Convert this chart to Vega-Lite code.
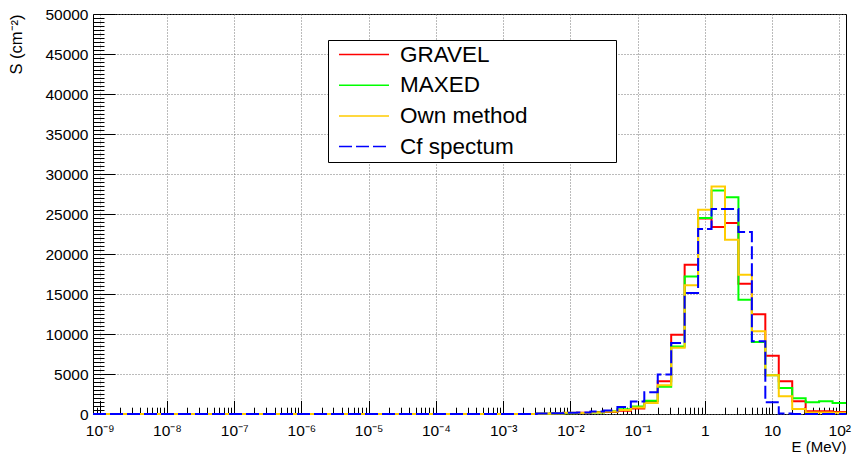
{
  "$schema": "https://vega.github.io/schema/vega-lite/v6.json",
  "width": 753,
  "height": 400,
  "autosize": {"type": "none"},
  "padding": {"left": 93, "top": 14, "right": 6, "bottom": 40},
  "background": "white",
  "config": {
    "font": "Liberation Sans",
    "view": {"stroke": "#000000", "strokeWidth": 1},
    "axis": {"labelFont": "Liberation Sans", "titleFont": "Liberation Sans", "labelColor": "#000000", "titleColor": "#000000", "tickColor": "#000000", "titleFontWeight": "normal"},
    "legend": {
      "orient": "none",
      "legendX": 235,
      "legendY": 26,
      "fillColor": "#ffffff",
      "strokeColor": "#000000",
      "padding": 3,
      "symbolType": "stroke",
      "symbolSize": 2500,
      "symbolStrokeWidth": 1.5,
      "symbolOffset": 7,
      "labelFont": "Liberation Sans",
      "labelFontSize": 22.5,
      "labelColor": "#000000",
      "labelOffset": 10,
      "labelLimit": 500,
      "clipHeight": 23,
      "rowPadding": 7.7
    }
  },
  "datasets": {
    "h": [
      {"E": 7.943e-10, "GRAVEL": 0, "MAXED": 0, "Own method": 0, "Cf spectum": 0},
      {"E": 1.259e-9, "GRAVEL": 0, "MAXED": 0, "Own method": 0, "Cf spectum": 0},
      {"E": 1.995e-9, "GRAVEL": 0, "MAXED": 0, "Own method": 0, "Cf spectum": 0},
      {"E": 3.162e-9, "GRAVEL": 0, "MAXED": 0, "Own method": 0, "Cf spectum": 0},
      {"E": 5.012e-9, "GRAVEL": 0, "MAXED": 0, "Own method": 0, "Cf spectum": 0},
      {"E": 7.943e-9, "GRAVEL": 0, "MAXED": 0, "Own method": 0, "Cf spectum": 0},
      {"E": 1.259e-8, "GRAVEL": 0, "MAXED": 0, "Own method": 0, "Cf spectum": 0},
      {"E": 1.995e-8, "GRAVEL": 0, "MAXED": 0, "Own method": 0, "Cf spectum": 0},
      {"E": 3.162e-8, "GRAVEL": 0, "MAXED": 0, "Own method": 0, "Cf spectum": 0},
      {"E": 5.012e-8, "GRAVEL": 0, "MAXED": 0, "Own method": 0, "Cf spectum": 0},
      {"E": 7.943e-8, "GRAVEL": 0, "MAXED": 0, "Own method": 0, "Cf spectum": 0},
      {"E": 1.259e-7, "GRAVEL": 0, "MAXED": 0, "Own method": 0, "Cf spectum": 0},
      {"E": 1.995e-7, "GRAVEL": 0, "MAXED": 0, "Own method": 0, "Cf spectum": 0},
      {"E": 3.162e-7, "GRAVEL": 0, "MAXED": 0, "Own method": 0, "Cf spectum": 0},
      {"E": 5.012e-7, "GRAVEL": 0, "MAXED": 0, "Own method": 0, "Cf spectum": 0},
      {"E": 7.943e-7, "GRAVEL": 0, "MAXED": 0, "Own method": 0, "Cf spectum": 0},
      {"E": 1.259e-6, "GRAVEL": 0, "MAXED": 0, "Own method": 0, "Cf spectum": 0},
      {"E": 1.995e-6, "GRAVEL": 0, "MAXED": 0, "Own method": 0, "Cf spectum": 0},
      {"E": 3.162e-6, "GRAVEL": 0, "MAXED": 0, "Own method": 0, "Cf spectum": 0},
      {"E": 5.012e-6, "GRAVEL": 0, "MAXED": 0, "Own method": 0, "Cf spectum": 0},
      {"E": 7.943e-6, "GRAVEL": 0, "MAXED": 0, "Own method": 0, "Cf spectum": 0},
      {"E": 1.259e-5, "GRAVEL": 0, "MAXED": 0, "Own method": 0, "Cf spectum": 0},
      {"E": 1.995e-5, "GRAVEL": 0, "MAXED": 0, "Own method": 0, "Cf spectum": 0},
      {"E": 3.162e-5, "GRAVEL": 0, "MAXED": 0, "Own method": 0, "Cf spectum": 0},
      {"E": 5.012e-5, "GRAVEL": 0, "MAXED": 0, "Own method": 0, "Cf spectum": 0},
      {"E": 7.943e-5, "GRAVEL": 0, "MAXED": 0, "Own method": 0, "Cf spectum": 0},
      {"E": 1.259e-4, "GRAVEL": 0, "MAXED": 0, "Own method": 0, "Cf spectum": 0},
      {"E": 1.995e-4, "GRAVEL": 0, "MAXED": 0, "Own method": 0, "Cf spectum": 0},
      {"E": 3.162e-4, "GRAVEL": 0, "MAXED": 0, "Own method": 0, "Cf spectum": 0},
      {"E": 5.012e-4, "GRAVEL": 0, "MAXED": 0, "Own method": 0, "Cf spectum": 0},
      {"E": 7.943e-4, "GRAVEL": 0, "MAXED": 0, "Own method": 0, "Cf spectum": 0},
      {"E": 1.259e-3, "GRAVEL": 0, "MAXED": 0, "Own method": 0, "Cf spectum": 0},
      {"E": 1.995e-3, "GRAVEL": 0, "MAXED": 0, "Own method": 0, "Cf spectum": 0},
      {"E": 3.162e-3, "GRAVEL": 20, "MAXED": 20, "Own method": 20, "Cf spectum": 60},
      {"E": 5.012e-3, "GRAVEL": 50, "MAXED": 50, "Own method": 50, "Cf spectum": 100},
      {"E": 7.943e-3, "GRAVEL": 80, "MAXED": 80, "Own method": 150, "Cf spectum": 150},
      {"E": 1.259e-2, "GRAVEL": 150, "MAXED": 120, "Own method": 120, "Cf spectum": 200},
      {"E": 1.995e-2, "GRAVEL": 250, "MAXED": 200, "Own method": 180, "Cf spectum": 300},
      {"E": 3.162e-2, "GRAVEL": 250, "MAXED": 350, "Own method": 300, "Cf spectum": 450},
      {"E": 5.012e-2, "GRAVEL": 420, "MAXED": 600, "Own method": 500, "Cf spectum": 870},
      {"E": 7.943e-2, "GRAVEL": 700, "MAXED": 950, "Own method": 800, "Cf spectum": 1560},
      {"E": 0.1259, "GRAVEL": 1620, "MAXED": 1660, "Own method": 1370, "Cf spectum": 2720},
      {"E": 0.1995, "GRAVEL": 4080, "MAXED": 3400, "Own method": 3580, "Cf spectum": 4950},
      {"E": 0.3162, "GRAVEL": 9910, "MAXED": 8450, "Own method": 8290, "Cf spectum": 8870},
      {"E": 0.5012, "GRAVEL": 18660, "MAXED": 17200, "Own method": 16080, "Cf spectum": 15120},
      {"E": 0.7943, "GRAVEL": 24450, "MAXED": 24500, "Own method": 25540, "Cf spectum": 23120},
      {"E": 1.259, "GRAVEL": 23370, "MAXED": 27950, "Own method": 28450, "Cf spectum": 25620},
      {"E": 1.995, "GRAVEL": 23870, "MAXED": 27080, "Own method": 21790, "Cf spectum": 25620},
      {"E": 3.162, "GRAVEL": 16290, "MAXED": 14290, "Own method": 17410, "Cf spectum": 22750},
      {"E": 5.012, "GRAVEL": 12460, "MAXED": 9000, "Own method": 10330, "Cf spectum": 9080},
      {"E": 7.943, "GRAVEL": 7290, "MAXED": 4850, "Own method": 4830, "Cf spectum": 1460},
      {"E": 12.59, "GRAVEL": 4080, "MAXED": 3250, "Own method": 2210, "Cf spectum": 50},
      {"E": 19.95, "GRAVEL": 1580, "MAXED": 1960, "Own method": 620, "Cf spectum": 0},
      {"E": 31.62, "GRAVEL": 330, "MAXED": 1460, "Own method": 200, "Cf spectum": 0},
      {"E": 50.12, "GRAVEL": 330, "MAXED": 1580, "Own method": 200, "Cf spectum": 0},
      {"E": 79.43, "GRAVEL": 250, "MAXED": 1370, "Own method": 150, "Cf spectum": 0},
      {"E": 125.89, "GRAVEL": 250, "MAXED": 1370, "Own method": 150, "Cf spectum": 0}
    ]
  },
  "layer": [
    {
      "data": {"name": "h"},
      "transform": [{"fold": ["GRAVEL", "MAXED", "Own method"], "as": ["series", "S"]}],
      "mark": {"type": "line", "interpolate": "step-after", "strokeWidth": 2},
      "encoding": {
        "x": {
          "field": "E", "type": "quantitative",
          "scale": {"type": "log", "domain": [7.943e-10, 125.89], "nice": false},
          "axis": {
            "orient": "bottom",
            "values": [1e-9, 1e-8, 1e-7, 1e-6, 1e-5, 1e-4, 1e-3, 1e-2, 1e-1, 1, 10, 100],
            "labelExpr": "['10⁻⁹','10⁻⁸','10⁻⁷','10⁻⁶','10⁻⁵','10⁻⁴','10⁻³','10⁻²','10⁻¹','1','10','10²'][round(log(datum.value)/LN10)+9]",
            "labelFontSize": 15.5,
            "labelPadding": 23,
            "labelFlush": false,
            "tickSize": -13.6,
            "tickWidth": 1,
            "domain": false,
            "grid": true,
            "gridDash": [1, 2],
            "gridColor": "#777777",
            "gridWidth": 1,
            "title": "E (MeV)",
            "titleFontSize": 15,
            "titleAnchor": "end",
            "titleBaseline": "alphabetic",
            "titleY": 37.5
          }
        },
        "y": {
          "field": "S", "type": "quantitative",
          "scale": {"domain": [0, 50000], "nice": false},
          "axis": {
            "orient": "left",
            "values": [0, 5000, 10000, 15000, 20000, 25000, 30000, 35000, 40000, 45000, 50000],
            "format": "d",
            "labelFontSize": 15.5,
            "labelPadding": 27,
            "tickSize": -22,
            "tickWidth": 1,
            "domain": false,
            "grid": true,
            "gridDash": [1, 2],
            "gridColor": "#777777",
            "gridWidth": 1,
            "title": "S (cm⁻²)",
            "titleFontSize": 16.5,
            "titleAnchor": "end",
            "titlePadding": 20
          }
        },
        "color": {
          "field": "series", "type": "nominal",
          "scale": {"domain": ["GRAVEL", "MAXED", "Own method", "Cf spectum"], "range": ["#ff0000", "#00ff00", "#ffcc00", "#0000ff"]},
          "legend": {"title": null, "labelExpr": "datum.label + '\u2800\u2800\u2800\u2800\u2800'"}
        },
        "strokeDash": {
          "field": "series", "type": "nominal",
          "scale": {"domain": ["GRAVEL", "MAXED", "Own method", "Cf spectum"], "range": [[1, 0], [1, 0], [1, 0], [13, 4]]},
          "legend": {"title": null, "labelExpr": "datum.label + '\u2800\u2800\u2800\u2800\u2800'"}
        }
      }
    },
    {
      "data": {"name": "h"},
      "transform": [{"fold": ["Cf spectum"], "as": ["series", "S"]}],
      "mark": {"type": "line", "interpolate": "step-after", "strokeWidth": 2},
      "encoding": {
        "x": {
          "field": "E", "type": "quantitative",
          "scale": {"type": "log", "domain": [7.943e-10, 125.89], "nice": false},
          "axis": {
            "orient": "bottom",
            "values": [8e-10, 9e-10,
              2e-9, 3e-9, 4e-9, 5e-9, 6e-9, 7e-9, 8e-9, 9e-9,
              2e-8, 3e-8, 4e-8, 5e-8, 6e-8, 7e-8, 8e-8, 9e-8,
              2e-7, 3e-7, 4e-7, 5e-7, 6e-7, 7e-7, 8e-7, 9e-7,
              2e-6, 3e-6, 4e-6, 5e-6, 6e-6, 7e-6, 8e-6, 9e-6,
              2e-5, 3e-5, 4e-5, 5e-5, 6e-5, 7e-5, 8e-5, 9e-5,
              2e-4, 3e-4, 4e-4, 5e-4, 6e-4, 7e-4, 8e-4, 9e-4,
              2e-3, 3e-3, 4e-3, 5e-3, 6e-3, 7e-3, 8e-3, 9e-3,
              2e-2, 3e-2, 4e-2, 5e-2, 6e-2, 7e-2, 8e-2, 9e-2,
              0.2, 0.3, 0.4, 0.5, 0.6, 0.7, 0.8, 0.9,
              2, 3, 4, 5, 6, 7, 8, 9,
              20, 30, 40, 50, 60, 70, 80, 90],
            "labels": false,
            "tickSize": -6.8,
            "tickWidth": 1,
            "domain": false,
            "grid": false,
            "title": null
          }
        },
        "y": {
          "field": "S", "type": "quantitative",
          "scale": {"domain": [0, 50000], "nice": false},
          "axis": {
            "orient": "left",
            "values": [500, 1000, 1500, 2000, 2500, 3000, 3500, 4000, 4500,
              5500, 6000, 6500, 7000, 7500, 8000, 8500, 9000, 9500,
              10500, 11000, 11500, 12000, 12500, 13000, 13500, 14000, 14500,
              15500, 16000, 16500, 17000, 17500, 18000, 18500, 19000, 19500,
              20500, 21000, 21500, 22000, 22500, 23000, 23500, 24000, 24500,
              25500, 26000, 26500, 27000, 27500, 28000, 28500, 29000, 29500,
              30500, 31000, 31500, 32000, 32500, 33000, 33500, 34000, 34500,
              35500, 36000, 36500, 37000, 37500, 38000, 38500, 39000, 39500,
              40500, 41000, 41500, 42000, 42500, 43000, 43500, 44000, 44500,
              45500, 46000, 46500, 47000, 47500, 48000, 48500, 49000, 49500],
            "labels": false,
            "tickSize": -11,
            "tickWidth": 1,
            "domain": false,
            "grid": false,
            "title": null
          }
        },
        "color": {
          "field": "series", "type": "nominal",
          "scale": {"domain": ["GRAVEL", "MAXED", "Own method", "Cf spectum"], "range": ["#ff0000", "#00ff00", "#ffcc00", "#0000ff"]},
          "legend": {"title": null, "labelExpr": "datum.label + '\u2800\u2800\u2800\u2800\u2800'"}
        },
        "strokeDash": {
          "field": "series", "type": "nominal",
          "scale": {"domain": ["GRAVEL", "MAXED", "Own method", "Cf spectum"], "range": [[1, 0], [1, 0], [1, 0], [13, 4]]},
          "legend": {"title": null, "labelExpr": "datum.label + '\u2800\u2800\u2800\u2800\u2800'"}
        }
      }
    }
  ],
  "resolve": {"axis": {"x": "independent", "y": "independent"}}
}
